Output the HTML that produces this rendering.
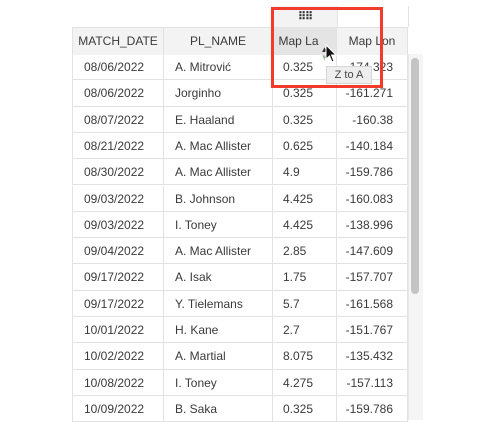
<!DOCTYPE html>
<html><head><meta charset="utf-8">
<style>
body{margin:0;width:500px;height:420px;background:#fff;position:relative;overflow:hidden;font-family:"Liberation Sans",sans-serif;font-size:12px;color:#3a3a3a}
.abs{position:absolute}
.row{position:absolute;left:72px;width:336px;height:26.3px;border-bottom:1px solid #e2e2e2;box-sizing:border-box}
.c{position:absolute;top:0;height:26px;line-height:26px;white-space:nowrap;border-right:1px solid #e2e2e2;box-sizing:border-box}
.c1{left:0;width:92px;padding-left:11px;border-left:1px solid #e2e2e2}
.c2{left:92px;width:109px;padding-left:11px}
.c3{left:201px;width:64px;padding-left:10px}
.c4{left:265px;width:71px;text-align:right;padding-right:14px}
.hd .c{text-align:center;padding:0;height:27px;line-height:27px;background:#f3f3f3}
</style></head><body>
<div class="abs" style="left:273px;top:6px;width:64px;height:21px;background:#f3f3f3;border-right:1px solid #e2e2e2;text-align:center;line-height:22px;font-size:11px;font-weight:bold;letter-spacing:-1px;color:#333">⠿⠿</div>
<div class="abs" style="left:337px;top:6px;width:71px;height:21px;border-right:1px solid #e2e2e2"></div>
<div class="row hd" style="top:27px;height:27px;border-top:1px solid #e2e2e2">
<div class="c c1" style="padding:0">MATCH_DATE</div>
<div class="c c2" style="padding:0">PL_NAME</div>
<div class="c c3" style="padding:0;background:#e4e4e4">Map La<span style="position:relative;display:inline-block;width:12px"><span style="position:absolute;left:2px;top:-9px;font-size:8px;color:#333">▲</span><span style="position:absolute;left:2px;top:-1px;font-size:8px;color:#9b9">▼</span></span></div>
<div class="c c4" style="padding:0;text-align:center">Map Lon</div>
</div>
<div id="body"></div>
<div class="abs" style="left:408px;top:54px;width:14px;height:366px;background:#f5f5f5;border-left:1px solid #e8e8e8"></div>
<div class="abs" style="left:411px;top:58px;width:8px;height:236px;background:#c4c4c4;border-radius:4px"></div>
<div class="abs" style="left:271px;top:7px;width:106px;height:75px;border:3px solid #f23b2b"></div>
<div class="abs" style="left:326px;top:66px;width:46px;height:18px;background:#eeeeee;border:1px solid #d6d6d6;box-sizing:border-box;text-align:center;line-height:16px;font-size:11px;color:#444">Z to A</div>
<svg class="abs" style="left:325px;top:44px" width="14" height="20"><path d="M1 1 L1 15 L4.5 12 L7 18 L9 17 L6.5 11 L11 11 Z" fill="#111" stroke="#fff" stroke-width="1"/></svg>
<script>
const dates=["08/06/2022","08/06/2022","08/07/2022","08/21/2022","08/30/2022","09/03/2022","09/03/2022","09/04/2022","09/17/2022","09/17/2022","10/01/2022","10/02/2022","10/08/2022","10/09/2022"];
const names=["A. Mitrović","Jorginho","E. Haaland","A. Mac Allister","A. Mac Allister","B. Johnson","I. Toney","A. Mac Allister","A. Isak","Y. Tielemans","H. Kane","A. Martial","I. Toney","B. Saka"];
const lats=["0.325","0.325","0.325","0.625","4.9","4.425","4.425","2.85","1.75","5.7","2.7","8.075","4.275","0.325"];
const lons=["-174.323","-161.271","-160.38","-140.184","-159.786","-160.083","-138.996","-147.609","-157.707","-161.568","-151.767","-135.432","-157.113","-159.786"];
const b=document.getElementById('body');
for(let i=0;i<dates.length;i++){
const r=document.createElement('div');r.className='row';r.style.top=(54+i*26.3)+'px';


[[dates,'c1','cell-match-date'],[names,'c2','cell-pl-name'],[lats,'c3','cell-map-lat'],[lons,'c4','cell-map-lon']].forEach(([a,c,n])=>{
const d=document.createElement('div');d.className='c '+c;d.textContent=a[i];


r.appendChild(d);});
b.appendChild(r);}
</script>
</body></html>
